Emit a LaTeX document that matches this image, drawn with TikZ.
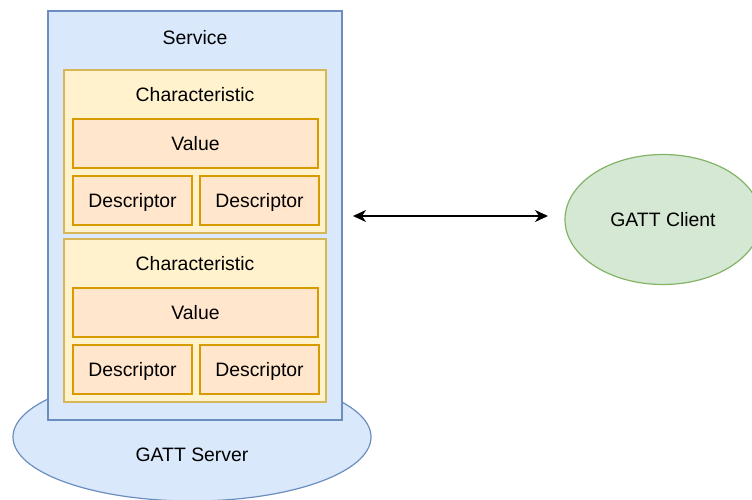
\documentclass[tikz,border=0pt]{standalone}
\usepackage{fontspec}
\setmainfont{Liberation Sans}
\usetikzlibrary{positioning,shapes.geometric,arrows.meta}
\definecolor{srvfill}{HTML}{DAE8FC}
\definecolor{srvline}{HTML}{6C8EBF}
\definecolor{chrfill}{HTML}{FFF2CC}
\definecolor{chrline}{HTML}{D6B656}
\definecolor{valfill}{HTML}{FFE6CC}
\definecolor{valline}{HTML}{D79B00}
\definecolor{cltfill}{HTML}{D5E8D4}
\definecolor{cltline}{HTML}{82B366}
\tikzset{
  box/.style      = {shape=rectangle, draw, line width=1.2pt, inner sep=0pt},
  servicebox/.style = {box, fill=srvfill, draw=srvline,
                     minimum width=294pt, minimum height=409pt},
  charbox/.style  = {box, fill=chrfill, draw=chrline,
                     minimum width=262pt, minimum height=163pt},
  valbox/.style   = {box, fill=valfill, draw=valline,
                     minimum width=245pt, minimum height=49pt},
  descbox/.style  = {box, fill=valfill, draw=valline,
                     minimum width=119pt, minimum height=49pt},
  blob/.style     = {ellipse, draw, line width=1.2pt, inner sep=0pt},
  txt/.style      = {font=\fontsize{19.4}{23}\selectfont,
                     text height=13.9pt, text depth=0pt}
}

\begin{document}
\begin{tikzpicture}[x=1pt,y=-1pt,every node/.style={txt}]
\useasboundingbox (0,0) rectangle (752,500);
% server
\node [blob, fill=srvfill, draw=srvline, minimum width=358pt, minimum height=128pt]
  (server) at (192,437) {};
\node (servertxt) at (192,455) {GATT Server};
\node [servicebox] (service) at (195,215.5) {};
\node (servicetxt) at (195,38) {Service};
% characteristics
\foreach \i/\y in {1/70,2/239} {
  \node [charbox] (char\i) at (195,\y+81.5) {};
  \node (chartxt\i) at (195,\y+25) {Characteristic};
  \node [valbox] (val\i) at (195.5,\y+73.5) {Value};
  \node [descbox] (descA\i) at (132.5,\y+130.5) {Descriptor};
  \node [descbox] (descB\i) at (259.5,\y+130.5) {Descriptor};
}
% client
\node [blob, fill=cltfill, draw=cltline, minimum width=196pt, minimum height=130pt]
  (client) at (663,219.5) {GATT Client};
\coordinate (srvend) at (353,216);
\coordinate (cltend) at (548,216);
\draw [{Stealth[length=13pt,width=12pt,inset=4pt]}-{Stealth[length=13pt,width=12pt,inset=4pt]}, line width=1.2pt]
  (srvend) -- (cltend);
\end{tikzpicture}
\end{document}
